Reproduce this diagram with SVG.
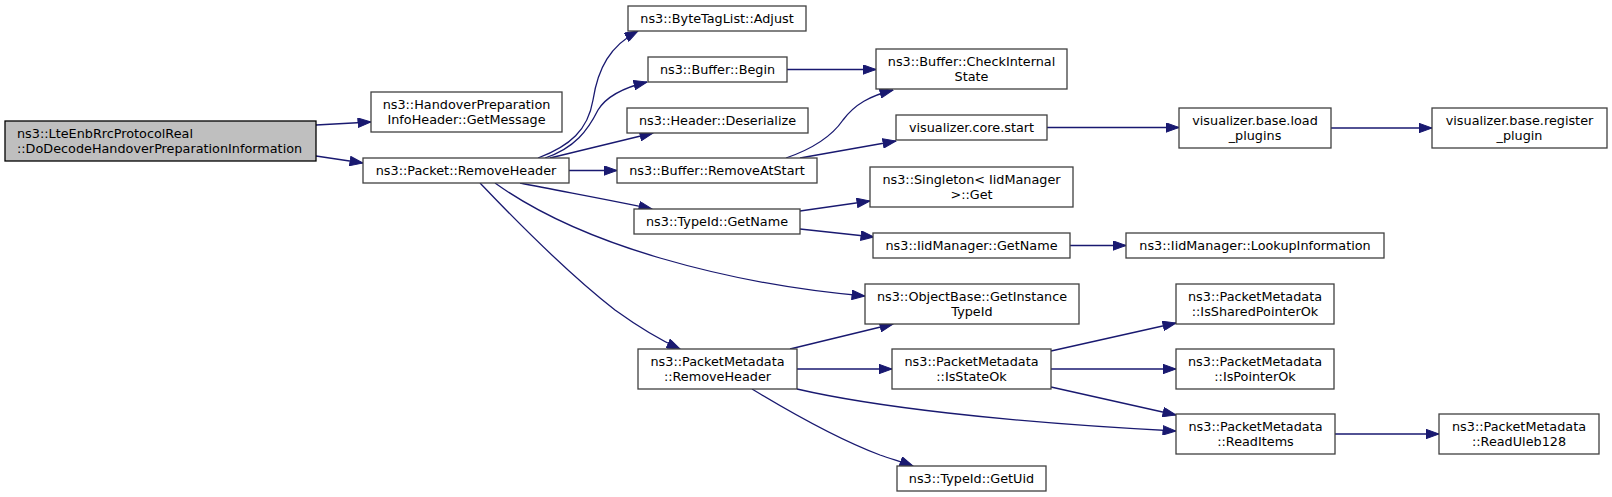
<svg xmlns="http://www.w3.org/2000/svg" width="1612" height="497" viewBox="0 0 1612 497">
<style>
.n rect{fill:#ffffff;stroke:#404040;stroke-width:1.3}
.n.root rect{fill:#bfbfbf;stroke:#000000}
.n text{font-family:"DejaVu Sans",sans-serif;font-size:12.8px;fill:#000000;text-anchor:middle}
.n.root text{text-anchor:start}
#edges path{fill:none;stroke:#191970;stroke-width:1.3;marker-end:url(#arr)}
</style>
<defs>
<marker id="arr" markerUnits="userSpaceOnUse" markerWidth="14" markerHeight="10" viewBox="0 0 13 10" refX="13" refY="5" orient="auto">
<path d="M0,0.3 L13,5 L0,9.7 Z" fill="#191970" stroke="#191970" stroke-width="1"/>
</marker>
</defs>
<rect x="0" y="0" width="1612" height="497" fill="#ffffff"/>
<g id="edges">
<path d="M316,125 L371,122"/>
<path d="M316,156 L363,163"/>
<path d="M538,158 C570,146 588,130 593,100 C598,68 610,46 638,31"/>
<path d="M545,158 C575,148 588,130 598,110 C606,97 622,88 647,82"/>
<path d="M550,158 L653,133"/>
<path d="M569,170.5 L617,170.5"/>
<path d="M520,183 C565,192 610,200 652,209"/>
<path d="M495,183 C530,208 585,236 660,258 C725,277 795,290 865,296"/>
<path d="M480,183 C520,225 570,275 615,310 C640,328 658,339 680,349"/>
<path d="M786,158 C815,148 832,136 843,120 C855,104 870,96 893,90"/>
<path d="M800,158 L896,141"/>
<path d="M787,69.5 L876,69.5"/>
<path d="M1047,127.5 L1179,127.5"/>
<path d="M1331,128 L1432,128"/>
<path d="M800,211 L870,201"/>
<path d="M800,229 L874,237"/>
<path d="M1070,245.5 L1126,245.5"/>
<path d="M790,349 L893,324"/>
<path d="M797,369 L892,369"/>
<path d="M797,389 C870,406 1000,422 1176,431"/>
<path d="M1051,351 L1176,323"/>
<path d="M1051,369 L1176,369"/>
<path d="M1051,387 L1176,415"/>
<path d="M752,389 C790,412 840,440 880,455 C895,460 905,463 913,466"/>
<path d="M1335,434 L1439,434"/>
</g>
<g id="n0" class="n root"><rect x="5" y="121" width="311" height="40"/><text x="17" y="138">ns3::LteEnbRrcProtocolReal</text><text x="17" y="153">::DoDecodeHandoverPreparationInformation</text></g>
<g id="n1" class="n"><rect x="371" y="92" width="191" height="40"/><text x="466.5" y="109">ns3::HandoverPreparation</text><text x="466.5" y="124">InfoHeader::GetMessage</text></g>
<g id="n2" class="n"><rect x="363" y="158" width="206" height="25"/><text x="466" y="175">ns3::Packet::RemoveHeader</text></g>
<g id="n3" class="n"><rect x="628" y="6" width="178" height="25"/><text x="717" y="23">ns3::ByteTagList::Adjust</text></g>
<g id="n4" class="n"><rect x="648" y="57" width="139" height="25"/><text x="717.5" y="74">ns3::Buffer::Begin</text></g>
<g id="n5" class="n"><rect x="627" y="108" width="181" height="25"/><text x="717.5" y="125">ns3::Header::Deserialize</text></g>
<g id="n6" class="n"><rect x="617" y="158" width="200" height="25"/><text x="717" y="175">ns3::Buffer::RemoveAtStart</text></g>
<g id="n7" class="n"><rect x="634" y="209" width="166" height="25"/><text x="717" y="226">ns3::TypeId::GetName</text></g>
<g id="n8" class="n"><rect x="638" y="349" width="159" height="40"/><text x="717.5" y="366">ns3::PacketMetadata</text><text x="717.5" y="381">::RemoveHeader</text></g>
<g id="n9" class="n"><rect x="876" y="49" width="191" height="40"/><text x="971.5" y="66">ns3::Buffer::CheckInternal</text><text x="971.5" y="81">State</text></g>
<g id="n10" class="n"><rect x="896" y="115" width="151" height="25"/><text x="971.5" y="132">visualizer.core.start</text></g>
<g id="n11" class="n"><rect x="870" y="167" width="203" height="40"/><text x="971.5" y="184">ns3::Singleton&lt; IidManager</text><text x="971.5" y="199">&gt;::Get</text></g>
<g id="n12" class="n"><rect x="873" y="233" width="197" height="25"/><text x="971.5" y="250">ns3::IidManager::GetName</text></g>
<g id="n13" class="n"><rect x="865" y="284" width="214" height="40"/><text x="972" y="301">ns3::ObjectBase::GetInstance</text><text x="972" y="316">TypeId</text></g>
<g id="n14" class="n"><rect x="892" y="349" width="159" height="40"/><text x="971.5" y="366">ns3::PacketMetadata</text><text x="971.5" y="381">::IsStateOk</text></g>
<g id="n15" class="n"><rect x="897" y="466" width="149" height="25"/><text x="971.5" y="483">ns3::TypeId::GetUid</text></g>
<g id="n16" class="n"><rect x="1179" y="108" width="152" height="40"/><text x="1255" y="125">visualizer.base.load</text><text x="1255" y="140">_plugins</text></g>
<g id="n17" class="n"><rect x="1126" y="233" width="258" height="25"/><text x="1255" y="250">ns3::IidManager::LookupInformation</text></g>
<g id="n18" class="n"><rect x="1176" y="284" width="158" height="40"/><text x="1255" y="301">ns3::PacketMetadata</text><text x="1255" y="316">::IsSharedPointerOk</text></g>
<g id="n19" class="n"><rect x="1176" y="349" width="158" height="40"/><text x="1255" y="366">ns3::PacketMetadata</text><text x="1255" y="381">::IsPointerOk</text></g>
<g id="n20" class="n"><rect x="1176" y="414" width="159" height="40"/><text x="1255.5" y="431">ns3::PacketMetadata</text><text x="1255.5" y="446">::ReadItems</text></g>
<g id="n21" class="n"><rect x="1432" y="108" width="175" height="40"/><text x="1519.5" y="125">visualizer.base.register</text><text x="1519.5" y="140">_plugin</text></g>
<g id="n22" class="n"><rect x="1439" y="414" width="160" height="40"/><text x="1519" y="431">ns3::PacketMetadata</text><text x="1519" y="446">::ReadUleb128</text></g>
</svg>
